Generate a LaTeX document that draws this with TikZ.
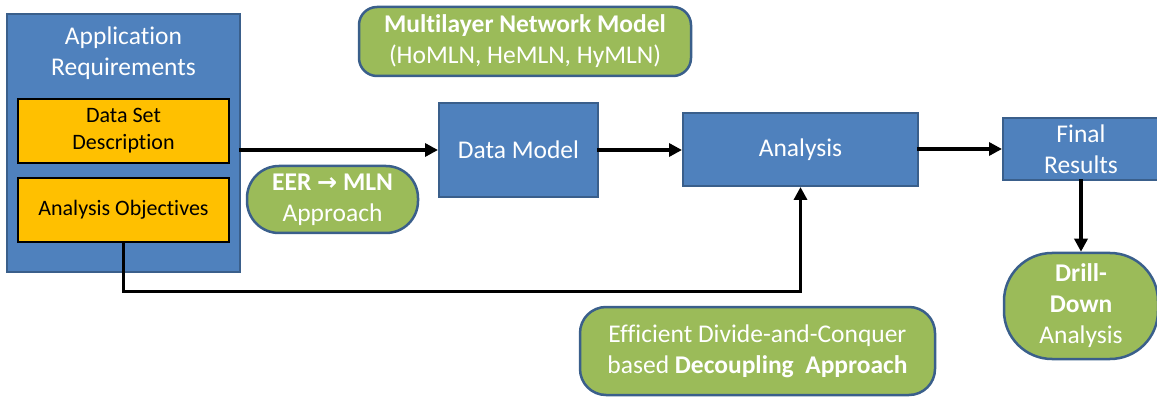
\documentclass[tikz,border=0pt]{standalone}
\usepackage{fontspec}
\setmainfont[Ligatures=NoCommon]{Carlito}
\newfontfamily\symfont{DejaVu Sans}
\usetikzlibrary{arrows.meta}
\definecolor{boxblue}{HTML}{4F81BD}
\definecolor{edgeblue}{HTML}{3A5F8B}
\definecolor{leafgreen}{HTML}{9BBB59}
\definecolor{amber}{HTML}{FFC000}
\tikzset{
  bigtext/.style={font=\fontsize{25.5}{31}\selectfont, align=center},
  smalltext/.style={font=\fontsize{22}{27}\selectfont, align=center},
  bluebox/.style={draw=edgeblue, line width=2pt, fill=boxblue, text=white, bigtext, inner sep=0pt},
  yellowbox/.style={draw=black, line width=2.5pt, fill=amber, text=black, smalltext, inner sep=0pt},
  greenbox/.style={draw=edgeblue, line width=2.5pt, fill=leafgreen, text=white, bigtext, inner sep=0pt},
  conn/.style={line width=3.5pt, line cap=rect, -{Triangle[length=13pt,width=13pt]}},
}
\begin{document}
\begin{tikzpicture}[x=1pt,y=-1pt]
\useasboundingbox (0,0) rectangle (1157,398);

% application requirements panel
\node[bluebox, minimum width=233pt, minimum height=258pt] (app) at (123.5,143) {};
\node[bigtext, text=white] (apptitle) at (123.5,53) {Application\\Requirements};
\node[yellowbox, minimum width=211pt, minimum height=64pt] (ds) at (123.5,131) {Data Set\\Description};
\node[yellowbox, minimum width=211pt, minimum height=64pt] (ao) at (123.5,210) {Analysis Objectives};

% pipeline
\node[bluebox, minimum width=159pt, minimum height=94pt] (dm) at (518.5,150) {Data Model};
\node[bluebox, minimum width=235pt, minimum height=73pt] (an) at (800.5,149.5) {Analysis};
\node[bluebox, minimum width=156pt, minimum height=62pt] (fr) at (1081,149) {Final\\Results};

% annotations
\node[greenbox, rounded corners=18pt, minimum width=332pt, minimum height=69pt] (mln) at (525,41.5)
  {\textbf{Multilayer Network Model}\\(HoMLN, HeMLN, HyMLN)};
\node[greenbox, rounded corners=32pt, minimum width=171pt, minimum height=67pt] (eer) at (332.5,199.5)
  {\textbf{EER {\symfont\bfseries\fontsize{24}{28}\selectfont →} MLN}\\Approach};
\node[greenbox, rounded corners=26pt, minimum width=355pt, minimum height=88pt] (dc) at (757.5,351)
  {Efficient Divide-and-Conquer\\based \textbf{Decoupling\ \ Approach}};
\node[greenbox, rounded corners=48pt, minimum width=154pt, minimum height=106pt] (dd) at (1081,306)
  {\textbf{Drill-}\\\textbf{Down}\\Analysis};

% connectors
\draw[conn] (app.east |- dm.west) -- (dm.west);
\draw[conn] (dm.east) -- (an.west |- dm.east);
\draw[conn] (an.east |- fr.west) -- (fr.west);
\draw[conn] (fr.south) -- (dd.north);
\draw[conn] (ao.south) -- ++(0,48) -| (an.south);
\end{tikzpicture}
\end{document}
